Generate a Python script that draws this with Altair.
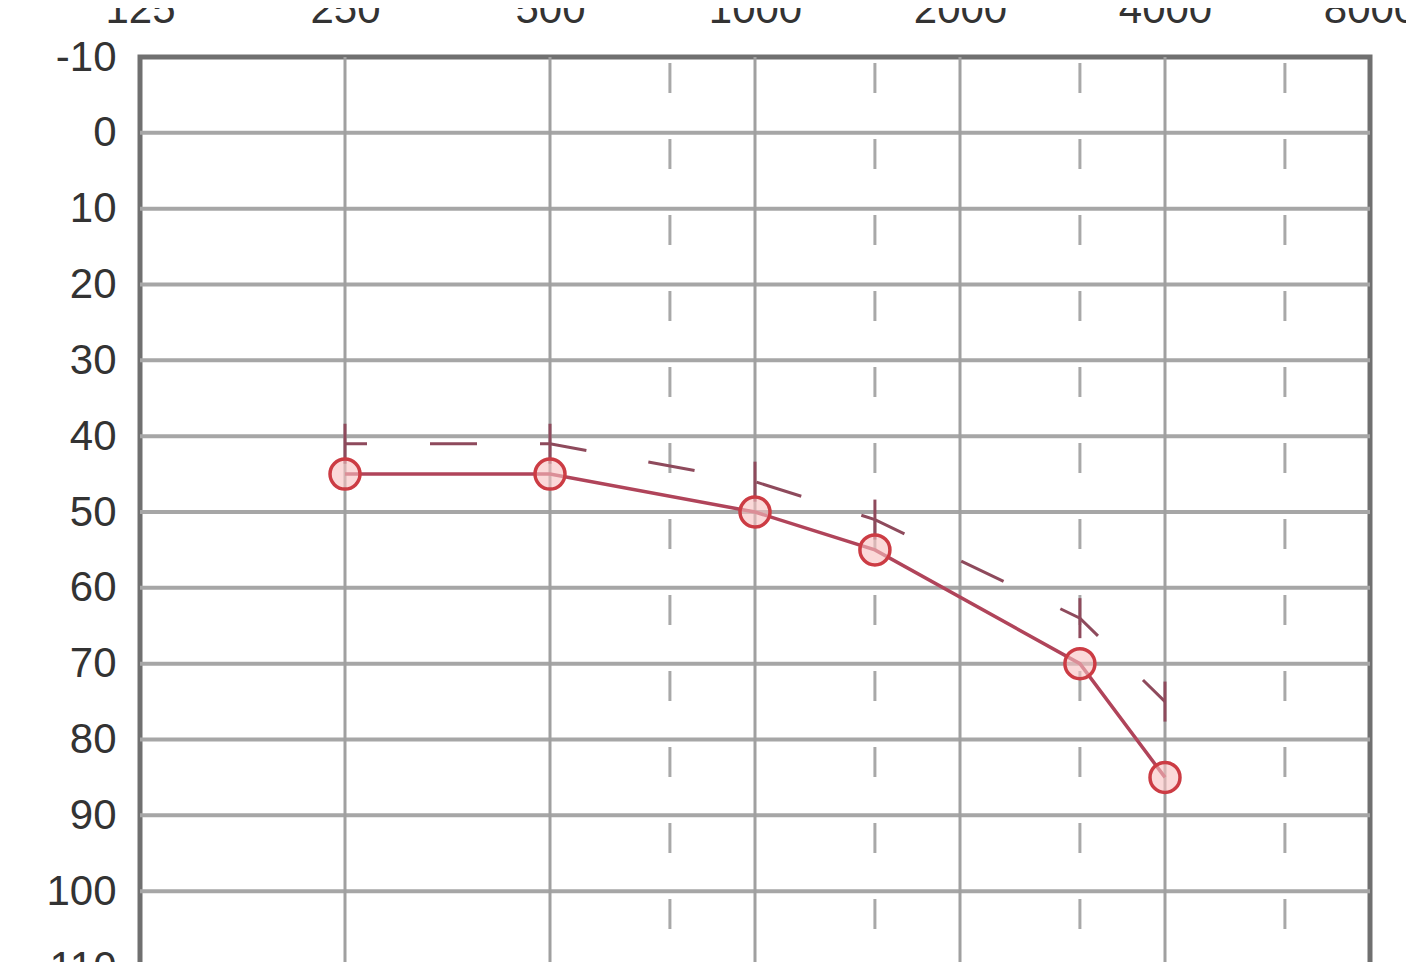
import altair as alt
import pandas as pd

# Axis ticks
freq_ticks = [125, 250, 500, 1000, 2000, 4000, 8000]
octave_lines = [250, 500, 1000, 2000, 4000]
half_octave_lines = [750, 1500, 3000, 6000]
db_ticks = [-10, 0, 10, 20, 30, 40, 50, 60, 70, 80, 90, 100, 110]
db_grid = [0, 10, 20, 30, 40, 50, 60, 70, 80, 90, 100]

# Series: circles (air conduction)
air_freq = [250, 500, 1000, 1500, 3000, 4000]
air_db = [45, 45, 50, 55, 70, 85]

# Series: dashed with vertical ticks
bone_freq = [250, 500, 1000, 1500, 3000, 4000]
bone_db = [41, 41, 46, 51, 64, 75]

air = pd.DataFrame({"freq": air_freq, "db": air_db})
bone = pd.DataFrame({"freq": bone_freq, "db": bone_db})
oct_df = pd.DataFrame({"freq": octave_lines})
half_df = pd.DataFrame({"freq": half_octave_lines})
grid_df = pd.DataFrame({"db": db_grid})

xs = alt.Scale(type="log", domain=[125, 8000], nice=False)
ys = alt.Scale(domain=[-10, 110], reverse=True, nice=False, zero=False)

x_axis = alt.Axis(
    orient="top", values=freq_ticks, labelExpr="'' + datum.value", title=None,
    labelFontSize=42, labelFont="Liberation Sans", labelColor="#333333",
    labelPadding=26, ticks=False, tickSize=0, domain=False, grid=False,
    labelFlush=False, labelOverlap=False, labelBound=False,
)
y_axis = alt.Axis(
    orient="left", values=db_ticks, labelExpr="'' + datum.value", title=None,
    labelFontSize=42, labelFont="Liberation Sans", labelColor="#333333",
    labelPadding=24, ticks=False, tickSize=0, domain=False, grid=False,
    labelOverlap=False, labelBound=False, labelFlush=False,
)

hgrid = alt.Chart(grid_df).mark_rule(color="#a6a6a6", strokeWidth=4).encode(
    y=alt.Y("db:Q", scale=ys, axis=y_axis)
)

vgrid = alt.Chart(oct_df).mark_rule(color="#a0a0a0", strokeWidth=3).encode(
    x=alt.X("freq:Q", scale=xs, axis=x_axis)
)

vdash = alt.Chart(half_df).mark_rule(
    color="#a8a8a8", strokeWidth=3, strokeDash=[30, 46], strokeDashOffset=-6
).encode(x=alt.X("freq:Q", scale=xs))

bone_line = alt.Chart(bone).mark_line(
    color="#8e4a5c", strokeWidth=3, strokeDash=[47, 63], strokeDashOffset=25
).encode(
    x=alt.X("freq:Q", scale=xs),
    y=alt.Y("db:Q", scale=ys),
)

bone_ticks = alt.Chart(bone).mark_point(
    shape="M 0 -1 L 0 1", size=1600, filled=False, color="#8e4a5c",
    strokeWidth=3, opacity=1
).encode(
    x=alt.X("freq:Q", scale=xs),
    y=alt.Y("db:Q", scale=ys),
)

air_line = alt.Chart(air).mark_line(color="#b0445a", strokeWidth=3.5).encode(
    x=alt.X("freq:Q", scale=xs),
    y=alt.Y("db:Q", scale=ys),
)

air_pts = alt.Chart(air).mark_point(
    shape="circle", size=900, filled=True, fill="#f8c0c0", fillOpacity=0.6,
    stroke="#cc3c44", strokeWidth=3.5, opacity=1
).encode(
    x=alt.X("freq:Q", scale=xs),
    y=alt.Y("db:Q", scale=ys),
)

chart = alt.layer(
    hgrid, vgrid, vdash, bone_line, bone_ticks, air_line, air_pts
).properties(
    width=1230, height=910,
    autosize=alt.AutoSizeParams(type="none"),
    padding={"left": 132, "top": 49, "right": 36, "bottom": 0},
    background="white",
).configure_view(
    stroke="#707070", strokeWidth=5
)

chart.save("out.html", embed_options={"renderer": "svg", "actions": False})
